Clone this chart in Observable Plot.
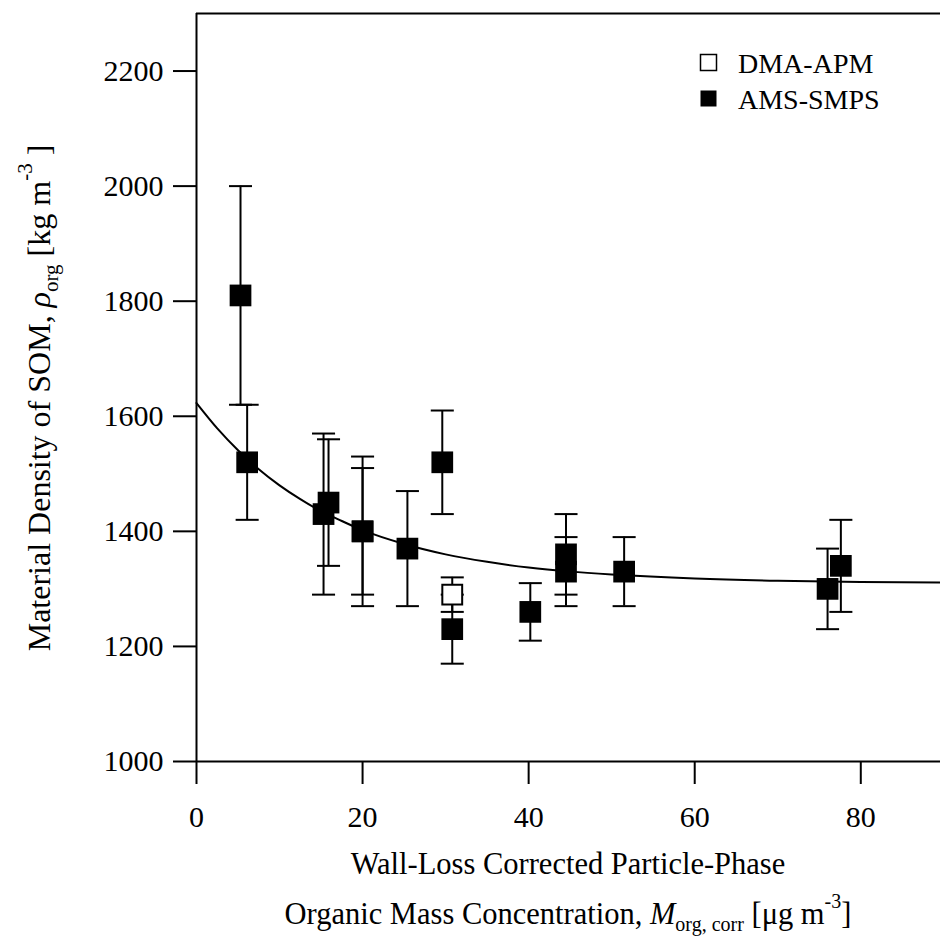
<!DOCTYPE html>
<html><head><meta charset="utf-8">
<script src="https://cdn.jsdelivr.net/npm/d3@7"></script>
<script src="https://cdn.jsdelivr.net/npm/@observablehq/plot@0.6"></script>
<style>body{margin:0;background:#fff} svg{display:block}</style>
</head><body><div id="chart"></div>
<script>
// AMS-SMPS (filled squares)
const amsX  = [5.3, 6.1, 15.3, 15.9, 20.0, 20.0, 25.4, 29.6, 30.8, 40.2, 44.5, 44.5, 51.5, 76.0, 77.6];
const amsY  = [1810, 1520, 1430, 1450, 1400, 1400, 1370, 1520, 1230, 1260, 1360, 1330, 1330, 1300, 1340];
const amsLo = [1620, 1420, 1290, 1340, 1270, 1290, 1270, 1430, 1170, 1210, 1290, 1270, 1270, 1230, 1260];
const amsHi = [2000, 1620, 1570, 1560, 1530, 1510, 1470, 1610, 1290, 1310, 1430, 1390, 1390, 1370, 1420];
// DMA-APM (open square)
const apmX  = [30.8];
const apmY  = [1290];
const apmLo = [1260];
const apmHi = [1320];
// fitted curve
const fitX = [0, 2.5, 5, 7.5, 10, 12.5, 15, 17.5, 20, 25, 30, 35, 40, 45, 50, 60, 70, 80, 90];
const fitY = [1623, 1579, 1541, 1508, 1480, 1456, 1435, 1418, 1402, 1378, 1360, 1347, 1337, 1330, 1325, 1318, 1314, 1312, 1311];
// ticks
const xTicks = [0, 20, 40, 60, 80];
const yTicks = [1000, 1200, 1400, 1600, 1800, 2000, 2200];
const legendLabels = ["DMA-APM", "AMS-SMPS"];

const ams = amsX.map((x, i) => ({x, y: amsY[i], lo: amsLo[i], hi: amsHi[i]}));
const apm = apmX.map((x, i) => ({x, y: apmY[i], lo: apmLo[i], hi: apmHi[i]}));
const fit = fitX.map((x, i) => ({x, y: fitY[i]}));

const hline = {draw(ctx, size) { const w = Math.sqrt(size); ctx.moveTo(-w / 2, 0); ctx.lineTo(w / 2, 0); }};
const FONT = "Liberation Serif, Times New Roman, serif";
const FS = 30;

function bars(data) {
  return [
    Plot.ruleX(data, {x: "x", y1: "lo", y2: "hi", stroke: "black", strokeWidth: 2}),
    Plot.dot(data, {x: "x", y: "lo", symbol: hline, r: 13, stroke: "black", strokeWidth: 2, fill: "none"}),
    Plot.dot(data, {x: "x", y: "hi", symbol: hline, r: 13, stroke: "black", strokeWidth: 2, fill: "none"})
  ];
}

const chart = Plot.plot({
  width: 940,
  height: 950,
  marginLeft: 196,
  marginTop: 13,
  marginRight: 0,
  marginBottom: 189,
  style: {fontFamily: FONT, fontSize: FS + "px", color: "black", background: "white"},
  x: {domain: [0, 89.6], label: null},
  y: {domain: [1000, 2300], label: null},
  marks: [
    Plot.axisX({ticks: xTicks, tickFormat: d => String(d), tickSize: 23, tickPadding: 21, strokeWidth: 2, strokeOpacity: 1,
                label: null, fontSize: FS, fontFamily: FONT, fill: "black"}),
    Plot.axisY({ticks: yTicks, tickFormat: d => String(d), tickSize: 23, tickPadding: 10, strokeWidth: 2, strokeOpacity: 1,
                label: null, fontSize: FS, fontFamily: FONT, fill: "black"}),
    Plot.ruleX([0], {stroke: "black", strokeWidth: 2}),
    Plot.ruleY([1000], {stroke: "black", strokeWidth: 2}),
    Plot.ruleY([2300], {stroke: "black", strokeWidth: 2}),
    Plot.line(fit, {x: "x", y: "y", curve: "monotone-x", stroke: "black", strokeWidth: 2}),
    ...bars(ams),
    ...bars(apm),
    Plot.dot(ams, {x: "x", y: "y", symbol: "square", r: 12.25, fill: "black", stroke: "none"}),
    Plot.dot(apm, {x: "x", y: "y", symbol: "square", r: 11.2, fill: "white", stroke: "black", strokeWidth: 2})
  ]
});

const svg = d3.select(chart);
// y-axis label
const YFS = 32;
const yl = svg.append("text")
  .attr("transform", "translate(50,398) rotate(-90)")
  .attr("text-anchor", "middle")
  .attr("font-family", FONT).attr("font-size", YFS).attr("fill", "black");
yl.append("tspan").text("Material Density of SOM, ");
yl.append("tspan").attr("font-style", "italic").text("ρ");
yl.append("tspan").attr("font-size", 21).attr("dy", 8).text("org");
yl.append("tspan").attr("dy", -8).text(" [kg m");
yl.append("tspan").attr("font-size", 21).attr("dy", -18).text("-3");
yl.append("tspan").attr("dy", 18).text(" ]");

// x-axis label, two lines
const XFS = 30.5;
const cx = 568;
svg.append("text").attr("x", cx).attr("y", 874).attr("text-anchor", "middle")
  .attr("font-family", FONT).attr("font-size", XFS).attr("fill", "black")
  .text("Wall-Loss Corrected Particle-Phase");
const xl = svg.append("text").attr("x", cx).attr("y", 924).attr("text-anchor", "middle")
  .attr("font-family", FONT).attr("font-size", XFS).attr("fill", "black");
xl.append("tspan").text("Organic Mass Concentration, ");
xl.append("tspan").attr("font-style", "italic").text("M");
xl.append("tspan").attr("font-size", 20).attr("dy", 7).text("org, corr");
xl.append("tspan").attr("dy", -7).text(" [μg m");
xl.append("tspan").attr("font-size", 20).attr("dy", -16).text("-3");
xl.append("tspan").attr("dy", 16).text("]");

// legend
const lg = svg.append("g").attr("font-family", FONT).attr("font-size", 28).attr("text-anchor", "start");
legendLabels.forEach((lab, i) => {
  const yb = 73 + i * 36;
  lg.append("rect").attr("x", 700.5).attr("y", yb - 18.5).attr("width", 16).attr("height", 16)
    .attr("fill", i === 0 ? "white" : "black").attr("stroke", "black").attr("stroke-width", i === 0 ? 1.5 : 0);
  lg.append("text").attr("x", 738).attr("y", yb).attr("fill", "black").text(lab);
});

document.getElementById("chart").appendChild(chart);
</script>
</body></html>
